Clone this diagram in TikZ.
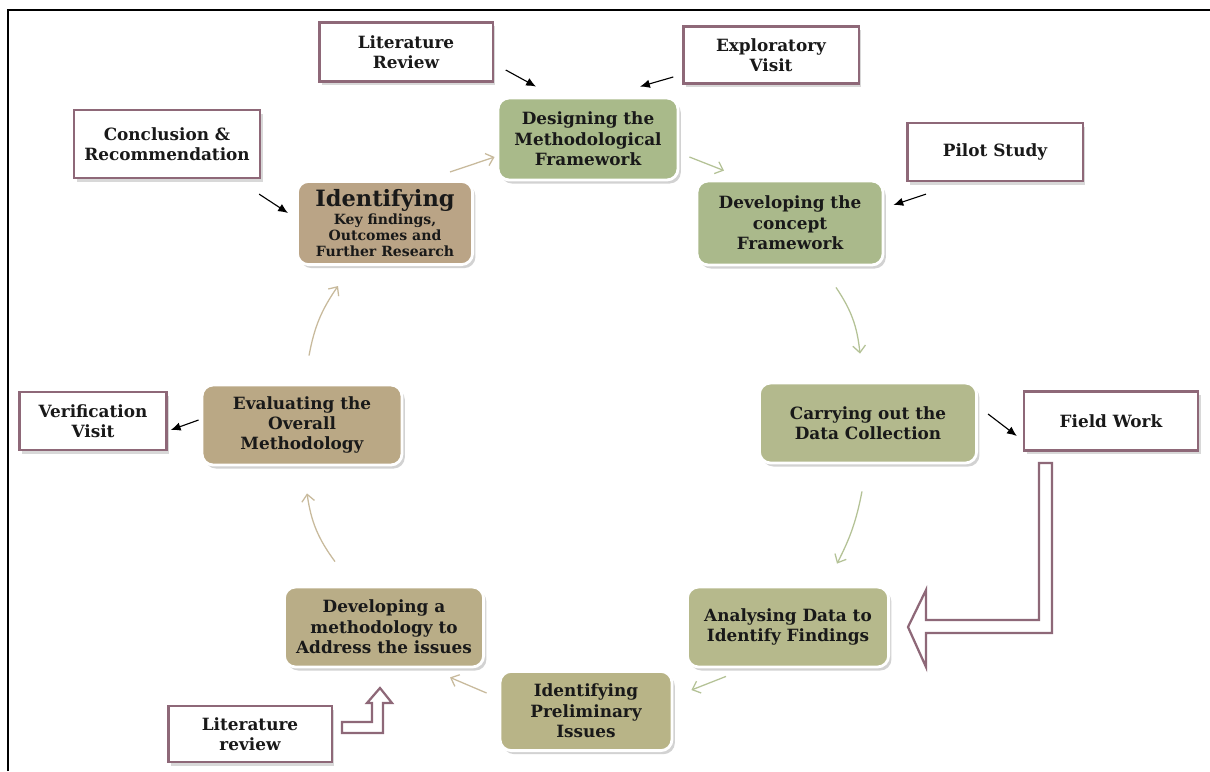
\documentclass[tikz,border=0pt]{standalone}
\usepackage{fontspec}
\setmainfont{DejaVu Serif}
\usepackage{xcolor}
\usetikzlibrary{arrows.meta,shadows,calc}

\definecolor{mauve}{RGB}{142,104,120}
\definecolor{sageA}{RGB}{169,186,138}
\definecolor{sageB}{RGB}{170,185,139}
\definecolor{oliveA}{RGB}{179,185,141}
\definecolor{oliveB}{RGB}{182,185,140}
\definecolor{khaki}{RGB}{184,180,135}
\definecolor{tanA}{RGB}{185,173,135}
\definecolor{tanB}{RGB}{186,168,133}
\definecolor{tanC}{RGB}{186,164,134}
\definecolor{greenline}{RGB}{180,194,150}
\definecolor{tanline}{RGB}{200,186,156}

\tikzset{
  stage/.style={rounded corners=8pt, draw=white, line width=2pt, align=center,
    text=black!90, font=\fontsize{12}{14.5}\selectfont\bfseries,
    drop shadow={opacity=0.35, shadow xshift=2pt, shadow yshift=-2.5pt}},
  extbox/.style={draw=mauve, line width=1.6pt, fill=white, align=center,
    text=black!90, font=\fontsize{12}{14.5}\selectfont\bfseries,
    drop shadow={opacity=0.3, shadow xshift=2pt, shadow yshift=-2.5pt}},
  flow/.style={line width=0.9pt, -{Straight Barb[length=5pt,width=9pt]}},
  link/.style={line width=0.8pt, -{Latex[length=7pt,width=6pt]}},
  hollow/.style={draw=mauve, line width=1.6pt, fill=white}
}

\begin{document}
\begin{tikzpicture}[x=0.025cm, y=-0.025cm]
    \useasboundingbox[fill=white] (0,0) rectangle (1210,771);
    % frame
    \draw[line width=2pt] (8,771) -- (8,10) -- (1210,10);

    % cycle stages
    \node[stage, fill=sageA, minimum width=4.5cm, minimum height=2.05cm] (design) at (588,139)
      {Designing the\\Methodological\\Framework};
    \node[stage, fill=sageB, minimum width=4.65cm, minimum height=2.1cm] (concept) at (790,223)
      {Developing the\\concept\\Framework};
    \node[stage, fill=oliveA, minimum width=5.43cm, minimum height=2cm] (carry) at (868,423)
      {Carrying out the\\Data Collection};
    \node[stage, fill=oliveB, minimum width=5.03cm, minimum height=2cm] (analyse) at (788,627)
      {Analysing Data to\\Identify Findings};
    \node[stage, fill=khaki, minimum width=4.3cm, minimum height=1.98cm] (prelim) at (586,711)
      {Identifying\\Preliminary\\Issues};
    \node[stage, fill=tanA, minimum width=4.98cm, minimum height=2cm] (method) at (384,627)
      {Developing a\\methodology to\\Address the issues};
    \node[stage, fill=tanB, minimum width=5cm, minimum height=2cm] (eval) at (302,425)
      {Evaluating the\\Overall\\Methodology};
    \node[stage, fill=tanC, minimum width=4.38cm, minimum height=2.08cm, inner sep=1pt,
      font=\fontsize{10}{11.5}\selectfont\bfseries] (key) at (385,223)
      {{\fontsize{16}{17}\selectfont Identifying}\\[1.5pt]
       Key findings,\\Outcomes and\\Further Research};

    % outside inputs
    \node[extbox, minimum width=4.33cm, minimum height=1.48cm] (litrev) at (406,52) {Literature\\Review};
    \node[extbox, minimum width=4.38cm, minimum height=1.43cm] (explore) at (771,55) {Exploratory\\Visit};
    \node[extbox, minimum width=4.38cm, minimum height=1.45cm] (pilot) at (995,152) {Pilot Study};
    \node[extbox, minimum width=4.65cm, minimum height=1.7cm] (concl) at (167,144) {Conclusion \&\\Recommendation};
    \node[extbox, minimum width=3.68cm, minimum height=1.45cm] (verif) at (93,421) {Verification\\Visit};
    \node[extbox, minimum width=4.35cm, minimum height=1.48cm] (field) at (1111,421) {Field Work};
    \node[extbox, minimum width=4.08cm, minimum height=1.4cm] (litlow) at (250,734) {Literature\\review};

    % cycle arrows
    \draw[flow, tanline] ($(key.north)+(65,-8)$) -- ($(design.west)+(-2,18)$);
    \draw[flow, greenline] ($(design.east)+(10,18)$) -- ($(concept.north)+(-66,-9)$);
    \draw[flow, greenline] ($(concept.south)+(46,21)$) to[bend left=14] ($(carry.north)+(-8,-28)$);
    \draw[flow, greenline] ($(carry.south)+(-6,27)$) to[bend left=8] ($(analyse.north)+(49,-22)$);
    \draw[flow, greenline] ($(analyse.south)+(-62,8)$) -- ($(prelim.east)+(18,-21)$);
    \draw[flow, tanline] ($(prelim.west)+(-12,-18)$) -- ($(method.south)+(66,9)$);
    \draw[flow, tanline] ($(method.north)+(-49,-24)$) to[bend left=14] ($(eval.south)+(5,27)$);
    \draw[flow, tanline] ($(eval.north)+(7,-28)$) to[bend left=12] ($(key.south)+(-47,20)$);

    % input arrows
    \draw[link] ($(litrev.east)+(12,18)$) -- ($(design.north)+(-52,-10)$);
    \draw[link] ($(explore.west)+(-9,22)$) -- ($(design.north)+(52,-10)$);
    \draw[link] ($(pilot.south)+(-69,12)$) -- ($(concept.east)+(9,-18)$);
    \draw[link] ($(concl.south east)+(-2,15)$) -- ($(key.west)+(-8,-10)$);
    \draw[link] ($(eval.west)+(-2,-5)$) -- ($(verif.east)+(3,9)$);
    \draw[link] ($(carry.east)+(10,-9)$) -- ($(field.west)+(-6,15)$);

    % block arrows
    \draw[hollow] (1039,463) -- (1052,463) -- (1052,633) -- (926,633) -- (926,667)
      -- (908,627) -- (926,590) -- (926,620) -- (1039,620) -- cycle;
    \draw[hollow] (342,722) -- (372,722) -- (372,703) -- (367,703) -- (380,688)
      -- (392,703) -- (383,703) -- (383,733) -- (342,733) -- cycle;
\end{tikzpicture}
\end{document}
